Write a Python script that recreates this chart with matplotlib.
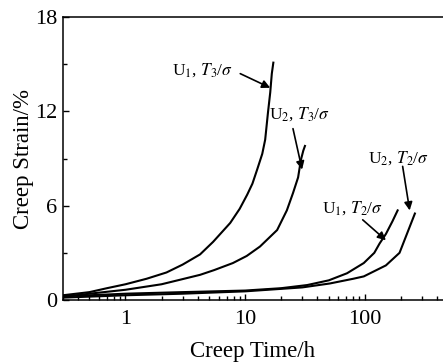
import matplotlib
matplotlib.use('Agg')
import matplotlib.pyplot as plt
from matplotlib.ticker import FixedLocator, NullFormatter

plt.rcParams['font.family'] = ['Liberation Serif', 'DejaVu Serif']
plt.rcParams['mathtext.fontset'] = 'stix'

# U1, T3/sigma
t_u1_t3 = [0.3, 0.5, 0.7, 1.0, 1.5, 2.2, 3.0, 4.2, 5.4, 7.5, 9.0, 10.4, 11.5, 12.6, 13.9, 14.7, 15.5, 16.2, 16.7, 17.2]
e_u1_t3 = [0.3, 0.5, 0.75, 1.0, 1.35, 1.75, 2.25, 2.9, 3.7, 4.9, 5.8, 6.7, 7.4, 8.3, 9.3, 10.2, 11.9, 13.2, 14.4, 15.1]
# U2, T3/sigma
t_u2_t3 = [0.3, 0.5, 1.0, 2.0, 2.9, 4.2, 5.5, 7.9, 10.3, 13.3, 18.5, 22.3, 25.1, 27.7, 29.2, 30.6, 31.6]
e_u2_t3 = [0.2, 0.4, 0.65, 1.0, 1.3, 1.6, 1.9, 2.35, 2.8, 3.4, 4.45, 5.7, 6.8, 7.8, 8.9, 9.5, 9.8]
# U1, T2/sigma
t_u1_t2 = [0.3, 0.5, 1.0, 3.0, 10.0, 20.0, 33.0, 50.0, 71.0, 98.0, 120.0, 133.0, 150.0, 170.0, 188.0]
e_u1_t2 = [0.25, 0.3, 0.4, 0.5, 0.6, 0.75, 0.95, 1.25, 1.7, 2.35, 3.0, 3.6, 4.2, 5.0, 5.7]
# U2, T2/sigma
t_u2_t2 = [0.3, 1.0, 3.0, 10.0, 30.0, 51.0, 80.0, 98.0, 150.0, 195.0, 262.0]
e_u2_t2 = [0.15, 0.3, 0.4, 0.55, 0.8, 1.05, 1.35, 1.5, 2.2, 3.0, 5.5]

fig = plt.figure(figsize=(4.43, 3.63), dpi=100)
ax = fig.add_axes([0.142, 0.1736, 0.858, 0.7794])

for t, e in [(t_u1_t3, e_u1_t3), (t_u2_t3, e_u2_t3), (t_u1_t2, e_u1_t2), (t_u2_t2, e_u2_t2)]:
    ax.plot(t, e, color='black', lw=1.5)

ax.set_xscale('log')
ax.set_xlim(0.3, 450)
ax.set_ylim(0, 18)
ax.set_yticks([0, 6, 12, 18])
ax.yaxis.set_minor_locator(FixedLocator([3, 9, 15]))
ax.xaxis.set_minor_formatter(NullFormatter())
ax.set_xticks([1, 10, 100])
ax.set_xticklabels(['1', '10', '100'])

ax.tick_params(which='both', direction='in', top=False, right=False, labelsize=16)
ax.tick_params(which='major', length=4.5, width=1.0)
ax.tick_params(axis='x', which='major', pad=7.5)
ax.tick_params(axis='y', which='major', pad=4)
ax.tick_params(which='minor', length=3, width=1.0)
ax.spines['right'].set_visible(False)
for s in ['left', 'bottom', 'top']:
    ax.spines[s].set_linewidth(1.1)

ax.set_xlabel('Creep Time/h', fontsize=16.5, labelpad=8)
ax.set_ylabel('Creep Strain/%', fontsize=16.5, labelpad=1)

arrow = dict(arrowstyle='-|>', color='black', lw=1.2, mutation_scale=12, shrinkA=0, shrinkB=0)
fs = 12.5
ax.text(7.9, 14.6, r'U$_1$, $T_3$/$\sigma$', fontsize=fs, ha='right', va='center')
ax.annotate('', xy=(16.2, 13.5), xytext=(9.1, 14.4), arrowprops=arrow)

ax.text(28.7, 11.8, r'U$_2$, $T_3$/$\sigma$', fontsize=fs, ha='center', va='center')
ax.annotate('', xy=(29.9, 8.3), xytext=(25.1, 10.9), arrowprops=arrow)

ax.text(192, 9.0, r'U$_2$, $T_2$/$\sigma$', fontsize=fs, ha='center', va='center')
ax.annotate('', xy=(237, 5.7), xytext=(207, 8.5), arrowprops=arrow)

ax.text(79, 5.85, r'U$_1$, $T_2$/$\sigma$', fontsize=fs, ha='center', va='center')
ax.annotate('', xy=(150, 3.8), xytext=(96, 5.1), arrowprops=arrow)

fig.savefig('out.png', dpi=100)
